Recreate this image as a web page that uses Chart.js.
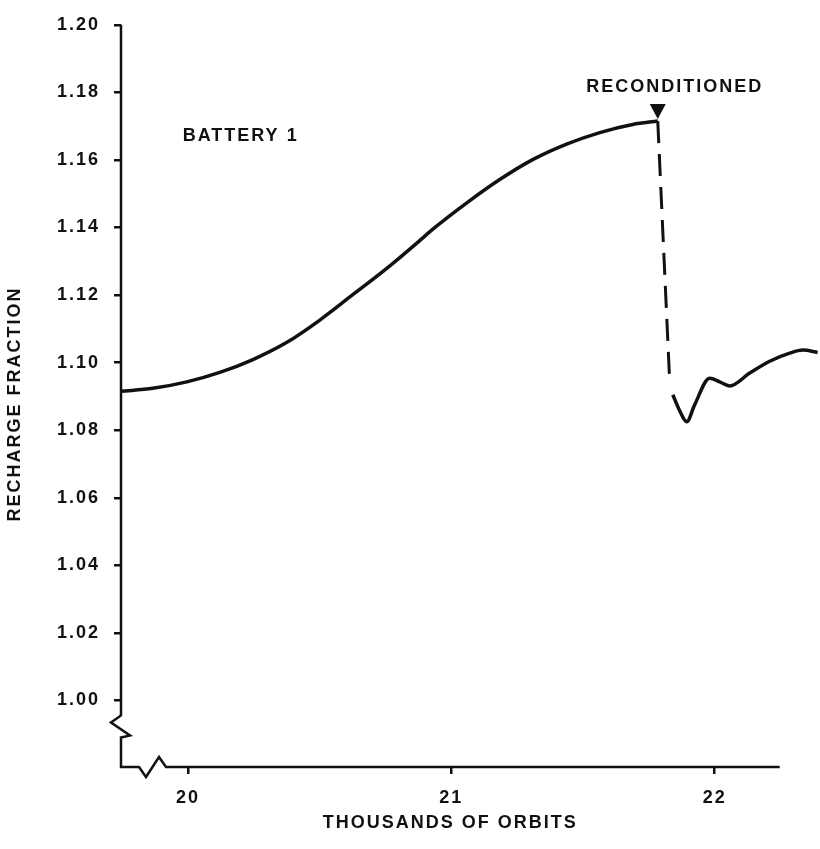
<!DOCTYPE html>
<html>
<head>
<meta charset="utf-8">
<script src="https://cdn.jsdelivr.net/npm/chart.js@4/dist/chart.umd.min.js"></script>
<style>
  html, body { margin: 0; padding: 0; background: #fff; }
  #wrap { width: 820px; height: 849px; position: relative; }
</style>
</head>
<body>
<div id="wrap"><canvas id="myChart"></canvas></div>
<script>
// battery 1 recharge fraction
const beforeX = [19.746, 19.867, 19.996, 20.121, 20.247, 20.376, 20.501, 20.626, 20.755, 20.880, 20.930, 21.059, 21.184, 21.309, 21.438, 21.564, 21.689, 21.784];
const beforeY = [1.0915, 1.0924, 1.0943, 1.0971, 1.1009, 1.1060, 1.1126, 1.1201, 1.1279, 1.1361, 1.1395, 1.1473, 1.1542, 1.1601, 1.1647, 1.1681, 1.1705, 1.1715];
const dropX = [21.784, 21.829];
const dropY = [1.1715, 1.0949];
const afterX = [21.841, 21.867, 21.894, 21.924, 21.981, 22.019, 22.057, 22.133, 22.209, 22.285, 22.335, 22.391];
const afterY = [1.0905, 1.0858, 1.0825, 1.0875, 1.0954, 1.0943, 1.0931, 1.0969, 1.1004, 1.1028, 1.1037, 1.1030];

const xTicks = [20, 21, 22];
const xTickLabels = ["20", "21", "22"];
const yTicks = [1.00, 1.02, 1.04, 1.06, 1.08, 1.10, 1.12, 1.14, 1.16, 1.18, 1.20];
const yTickLabels = ["1.00", "1.02", "1.04", "1.06", "1.08", "1.10", "1.12", "1.14", "1.16", "1.18", "1.20"];
const xAxisEnd = 22.247;

const batteryLabel = "BATTERY 1";
const batteryLabelAt = [19.98, 1.1655];
const reconLabel = "RECONDITIONED";
const xTitle = "THOUSANDS OF ORBITS";
const yTitle = "RECHARGE FRACTION";

const INK = "#111";
const FONT = "'Liberation Sans', Arial, sans-serif";

function toPoints(xs, ys) {
  return xs.map((x, i) => ({ x: x, y: ys[i] }));
}

const extras = {
  id: "extras",
  beforeDraw(chart) {
    chart.ctx.letterSpacing = "2px";
  },
  afterDraw(chart) {
    const ctx = chart.ctx;
    const xs = chart.scales.x;
    const ys = chart.scales.y;
    const left = chart.chartArea.left;
    const bottom = chart.chartArea.bottom;
    const right = xs.getPixelForValue(xAxisEnd);
    const top = ys.getPixelForValue(1.20);
    const one = ys.getPixelForValue(1.00);
    ctx.save();
    ctx.strokeStyle = INK;
    ctx.lineWidth = 2.5;
    ctx.lineJoin = "miter";
    // y axis with break
    ctx.beginPath();
    ctx.moveTo(left, top);
    ctx.lineTo(left, one + 15);
    ctx.lineTo(left - 10, one + 22);
    ctx.lineTo(left + 9, one + 35);
    ctx.lineTo(left, one + 37);
    ctx.lineTo(left, bottom);
    // x axis with break
    ctx.lineTo(left + 18, bottom);
    ctx.lineTo(left + 25, bottom + 10);
    ctx.lineTo(left + 38, bottom - 10);
    ctx.lineTo(left + 45, bottom);
    ctx.lineTo(right, bottom);
    ctx.stroke();

    // reconditioned marker
    const mx = xs.getPixelForValue(dropX[0]);
    const my = ys.getPixelForValue(dropY[0]);
    ctx.fillStyle = INK;
    ctx.beginPath();
    ctx.moveTo(mx - 8, my - 17);
    ctx.lineTo(mx + 8, my - 17);
    ctx.lineTo(mx, my - 2);
    ctx.closePath();
    ctx.fill();

    ctx.letterSpacing = "2px";
    ctx.font = "bold 18px " + FONT;
    ctx.textBaseline = "alphabetic";
    ctx.textAlign = "center";
    ctx.fillText(reconLabel, mx + 17, my - 29);

    ctx.textAlign = "left";
    ctx.fillText(batteryLabel, xs.getPixelForValue(batteryLabelAt[0]), ys.getPixelForValue(batteryLabelAt[1]));

    // axis titles
    ctx.textAlign = "center";
    ctx.textBaseline = "middle";
    ctx.fillText(xTitle, (left + right) / 2, 823);

    ctx.translate(15, 404);
    ctx.rotate(-Math.PI / 2);
    ctx.fillText(yTitle, 0, 0);
    ctx.restore();
  }
};

const lineStyle = {
  borderColor: INK,
  borderWidth: 3.5,
  pointRadius: 0,
  fill: false,
  clip: false,
  cubicInterpolationMode: "monotone"
};

new Chart(document.getElementById("myChart"), {
  type: "line",
  data: {
    datasets: [
      Object.assign({ label: "before", data: toPoints(beforeX, beforeY) }, lineStyle),
      Object.assign({}, lineStyle, { label: "drop", data: toPoints(dropX, dropY), borderDash: [22, 11], borderWidth: 3, cubicInterpolationMode: "default", tension: 0 }),
      Object.assign({ label: "after", data: toPoints(afterX, afterY) }, lineStyle)
    ]
  },
  options: {
    responsive: true,
    maintainAspectRatio: false,
    animation: false,
    layout: { padding: { top: 19, right: 0, left: 0, bottom: 0 } },
    plugins: {
      legend: { display: false },
      tooltip: { enabled: false }
    },
    scales: {
      x: {
        type: "linear",
        min: 19.746,
        max: 22.4,
        afterBuildTicks: (s) => { s.ticks = xTicks.map(v => ({ value: v })); },
        afterFit: (s) => { s.height = 82; },
        ticks: {
          callback: (v, i) => xTickLabels[i],
          autoSkip: false,
          maxRotation: 0,
          padding: 13,
          color: INK,
          font: { family: FONT, size: 18, weight: "bold" }
        },
        grid: { display: true, drawOnChartArea: false, drawTicks: true, tickLength: 7, color: INK, lineWidth: 2.5 },
        border: { display: false },
        title: { display: false }
      },
      y: {
        type: "linear",
        min: 0.9803,
        max: 1.20,
        afterBuildTicks: (s) => { s.ticks = yTicks.map(v => ({ value: v })); },
        afterFit: (s) => { s.width = 121; },
        ticks: {
          callback: (v, i) => yTickLabels[i],
          autoSkip: false,
          padding: 14,
          color: INK,
          font: { family: FONT, size: 18, weight: "bold" }
        },
        grid: { display: true, drawOnChartArea: false, drawTicks: true, tickLength: 7, color: INK, lineWidth: 2.5 },
        border: { display: false },
        title: { display: false }
      }
    }
  },
  plugins: [extras]
});
</script>
</body>
</html>
